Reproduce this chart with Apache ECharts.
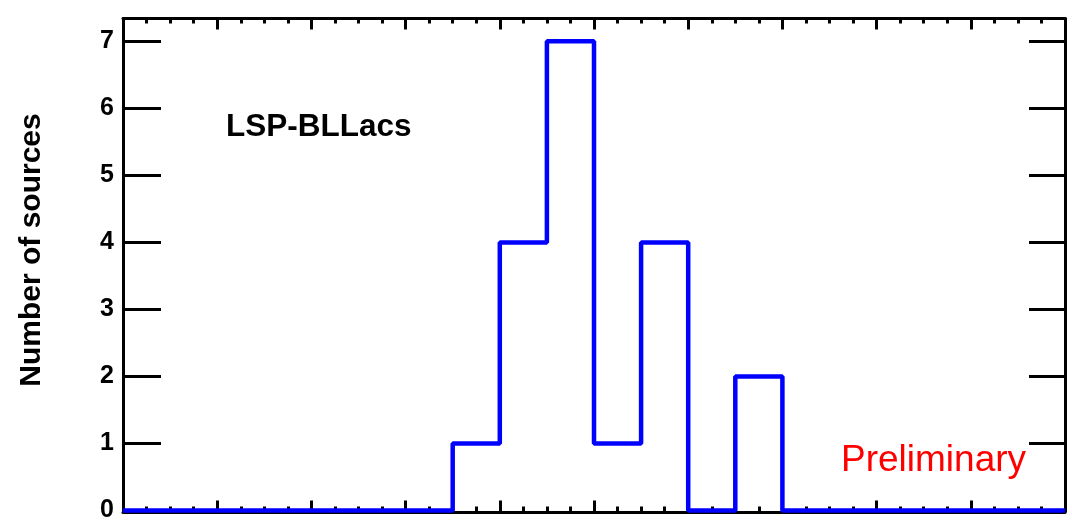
<!DOCTYPE html>
<html>
<head>
<meta charset="utf-8">
<script src="https://cdn.jsdelivr.net/npm/echarts@6/dist/echarts.min.js"></script>
<style>
html, body { margin: 0; padding: 0; background: #fff; }
#chart { width: 1072px; height: 523px; }
</style>
</head>
<body>
<div id="chart"></div>
<script>
// bin edges (20 bins) and counts per bin
var binEdges = [0, 1, 2, 3, 4, 5, 6, 7, 8, 9, 10, 11, 12, 13, 14, 15, 16, 17, 18, 19, 20];
var counts   = [0, 0, 0, 0, 0, 0, 0, 1, 4, 7, 1, 4, 0, 2, 0, 0, 0, 0, 0, 0];
var yMax = 7.34;

var FONT = '"Liberation Sans", Arial, Helvetica, sans-serif';

// step line: value of bin i from edge i to edge i+1
function histData(edges, vals){
    var res = [];
    for(var i = 0; i < vals.length; i++){
        res.push([edges[i], vals[i]]);
    }
    res.push([edges[vals.length], vals[vals.length - 1]]);
    return res;
}

function xAxisOpt(pos, major, minor){
    return {
        type: 'value', position: pos, min: binEdges[0], max: binEdges[binEdges.length - 1],
        interval: 2, offset: pos == 'bottom' ? 2 : 0,
        axisLine: { show: true, onZero: false, lineStyle: { color: '#000', width: 3 } },
        axisTick: { show: true, inside: true, length: major, lineStyle: { color: '#000', width: 3 } },
        minorTick: { show: true, splitNumber: 4, length: minor, lineStyle: { color: '#000', width: 3 } },
        axisLabel: { show: false },
        splitLine: { show: false }
    };
}

var chart = echarts.init(document.getElementById('chart'));
chart.setOption({
    animation: false,
    grid: { left: 123, right: 7, top: 18.5, bottom: 10.5, containLabel: false },
    xAxis: [ xAxisOpt('bottom', 12, 6), xAxisOpt('top', 11, 5) ],
    yAxis: [
        {
            type: 'value', position: 'left', min: 0, max: yMax, interval: 1,
            axisLine: { show: true, onZero: false, lineStyle: { color: '#000', width: 3 } },
            axisTick: { show: true, inside: true, length: 38, lineStyle: { color: '#000', width: 3 } },
            axisLabel: {
                fontFamily: FONT, fontWeight: 'bold', fontSize: 25, color: '#000', margin: 9,
                showMaxLabel: false,
                formatter: function(v){ return v % 1 === 0 ? String(v) : ''; }
            },
            splitLine: { show: false }
        },
        {
            type: 'value', position: 'right', min: 0, max: yMax, interval: 1,
            axisLine: { show: true, onZero: false, lineStyle: { color: '#000', width: 3 } },
            axisTick: { show: true, inside: true, length: 36, lineStyle: { color: '#000', width: 3 } },
            axisLabel: { show: false },
            splitLine: { show: false }
        }
    ],
    graphic: [
        { type: 'text', x: 32, y: 250, rotation: Math.PI / 2,
          style: { text: 'Number of sources', fontFamily: FONT, fontWeight: 'bold', fontSize: 30,
                   fill: '#000', align: 'center', verticalAlign: 'middle' } },
        { type: 'text', left: 226, top: 111,
          style: { text: 'LSP-BLLacs', fontFamily: FONT, fontWeight: 'bold', fontSize: 31.5, fill: '#000' } },
        { type: 'text', left: 841, top: 442,
          style: { text: 'Preliminary', fontFamily: FONT, fontSize: 37, fill: '#ff0000' } }
    ],
    series: [{
        type: 'line', step: 'end', clip: false, showSymbol: false,
        data: histData(binEdges, counts),
        lineStyle: { color: '#0000ff', width: 4.5 },
        z: 3
    }]
});
</script>
</body>
</html>
